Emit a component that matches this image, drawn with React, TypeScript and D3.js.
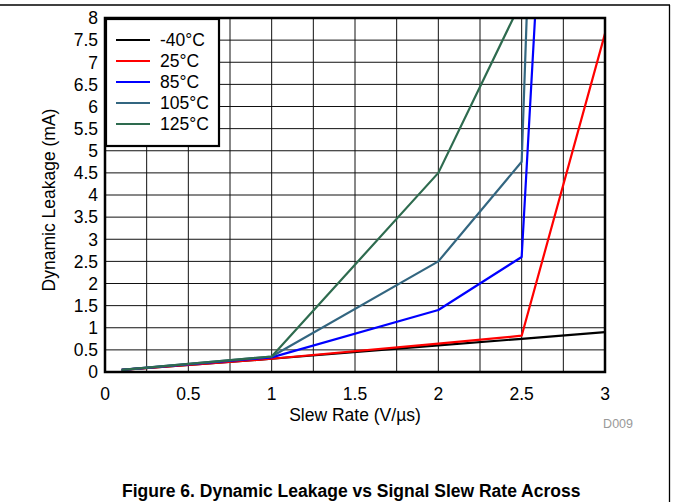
import React from 'react';
import * as d3 from 'd3';

const xTicks = [0, 0.5, 1, 1.5, 2, 2.5, 3];
const yTicks = [0, 0.5, 1, 1.5, 2, 2.5, 3, 3.5, 4, 4.5, 5, 5.5, 6, 6.5, 7, 7.5, 8];

const seriesNames = ['-40°C', '25°C', '85°C', '105°C', '125°C'];
const seriesColors = ['#000000', '#ff0000', '#0000ff', '#336680', '#2e6b4f'];

const m40: [number, number][] = [[0.1, 0.05], [1, 0.3], [2, 0.6], [2.5, 0.75], [3, 0.9]];
const t25: [number, number][] = [[0.1, 0.05], [1, 0.3], [2, 0.64], [2.5, 0.82], [3, 7.65]];
const t85: [number, number][] = [[0.1, 0.05], [1, 0.33], [2, 1.4], [2.5, 2.6], [2.58, 8]];
const t105: [number, number][] = [[0.1, 0.05], [1, 0.35], [2, 2.5], [2.5, 4.75], [2.53, 8]];
const t125: [number, number][] = [[0.1, 0.05], [1, 0.35], [2, 4.5], [2.45, 8]];

const seriesData = [m40, t25, t85, t105, t125];

const W = 673;
const H = 502;
const left = 105;
const right = 605;
const top = 18;
const bottom = 372;

export default function App() {
  const x = d3.scaleLinear().domain([0, 3]).range([left, right]);
  const y = d3.scaleLinear().domain([0, 8]).range([bottom, top]);
  const line = d3.line<[number, number]>().x((d) => x(d[0])).y((d) => y(d[1]));
  const xGrid = d3.range(0, 3.001, 0.25);
  const font = 'Arial, "Liberation Sans", sans-serif';
  const fs = 17.5;

  return (
    <svg width={W} height={H} style={{position: 'absolute', left: 0, top: 0}} fontFamily={font}>
      <rect width={W} height={H} fill="#fff" />
      <line x1={0} x2={670} y1={5} y2={5} stroke="#000" strokeWidth={1.3} />
      <line x1={669.5} x2={669.5} y1={5} y2={H} stroke="#000" strokeWidth={1.3} />
      <defs>
        <clipPath id="plot">
          <rect x={left} y={top} width={right - left} height={bottom - top} />
        </clipPath>
      </defs>
      {xGrid.map((v) => (
        <line key={'gx' + v} x1={x(v)} x2={x(v)} y1={top} y2={bottom} stroke="#111" strokeWidth={1} />
      ))}
      {yTicks.map((v) => (
        <line key={'gy' + v} x1={left} x2={right} y1={y(v)} y2={y(v)} stroke="#111" strokeWidth={1} />
      ))}
      <g clipPath="url(#plot)">
        {seriesData.map((d, i) => (
          <path key={i} d={line(d) ?? ''} fill="none" stroke={seriesColors[i]} strokeWidth={2.2} strokeLinejoin="round" />
        ))}
      </g>
      <rect x={left} y={top} width={right - left} height={bottom - top} fill="none" stroke="#000" strokeWidth={2.5} />
      {yTicks.map((v) => (
        <text key={'ty' + v} x={left - 7} y={y(v)} dy="0.36em" textAnchor="end" fontSize={fs} fill="#000">
          {v}
        </text>
      ))}
      {xTicks.map((v) => (
        <text key={'tx' + v} x={x(v)} y={bottom + 28} textAnchor="middle" fontSize={fs} fill="#000">
          {v}
        </text>
      ))}
      <text x={(left + right) / 2} y={bottom + 49} textAnchor="middle" fontSize={fs} fill="#000">
        Slew Rate (V/µs)
      </text>
      <text
        transform={`translate(55,${(top + bottom) / 2 + 5}) rotate(-90)`}
        textAnchor="middle"
        fontSize={fs}
        fill="#000"
      >
        Dynamic Leakage (mA)
      </text>
      <text x={633} y={428} textAnchor="end" fontSize={12.5} fill="#999">
        D009
      </text>
      <rect x={left + 1} y={top + 1} width={113} height={127} fill="#fff" stroke="#000" strokeWidth={2.2} />
      {seriesNames.map((n, i) => (
        <g key={n}>
          <line x1={116} x2={150} y1={40 + i * 21} y2={40 + i * 21} stroke={seriesColors[i]} strokeWidth={2.2} />
          <text x={160} y={40 + i * 21} dy="0.36em" fontSize={fs} fill="#000">
            {n}
          </text>
        </g>
      ))}
      <text x={122} y={497} fontSize={17.5} fontWeight="bold" fill="#000">
        Figure 6. Dynamic Leakage vs Signal Slew Rate Across
      </text>
    </svg>
  );
}
